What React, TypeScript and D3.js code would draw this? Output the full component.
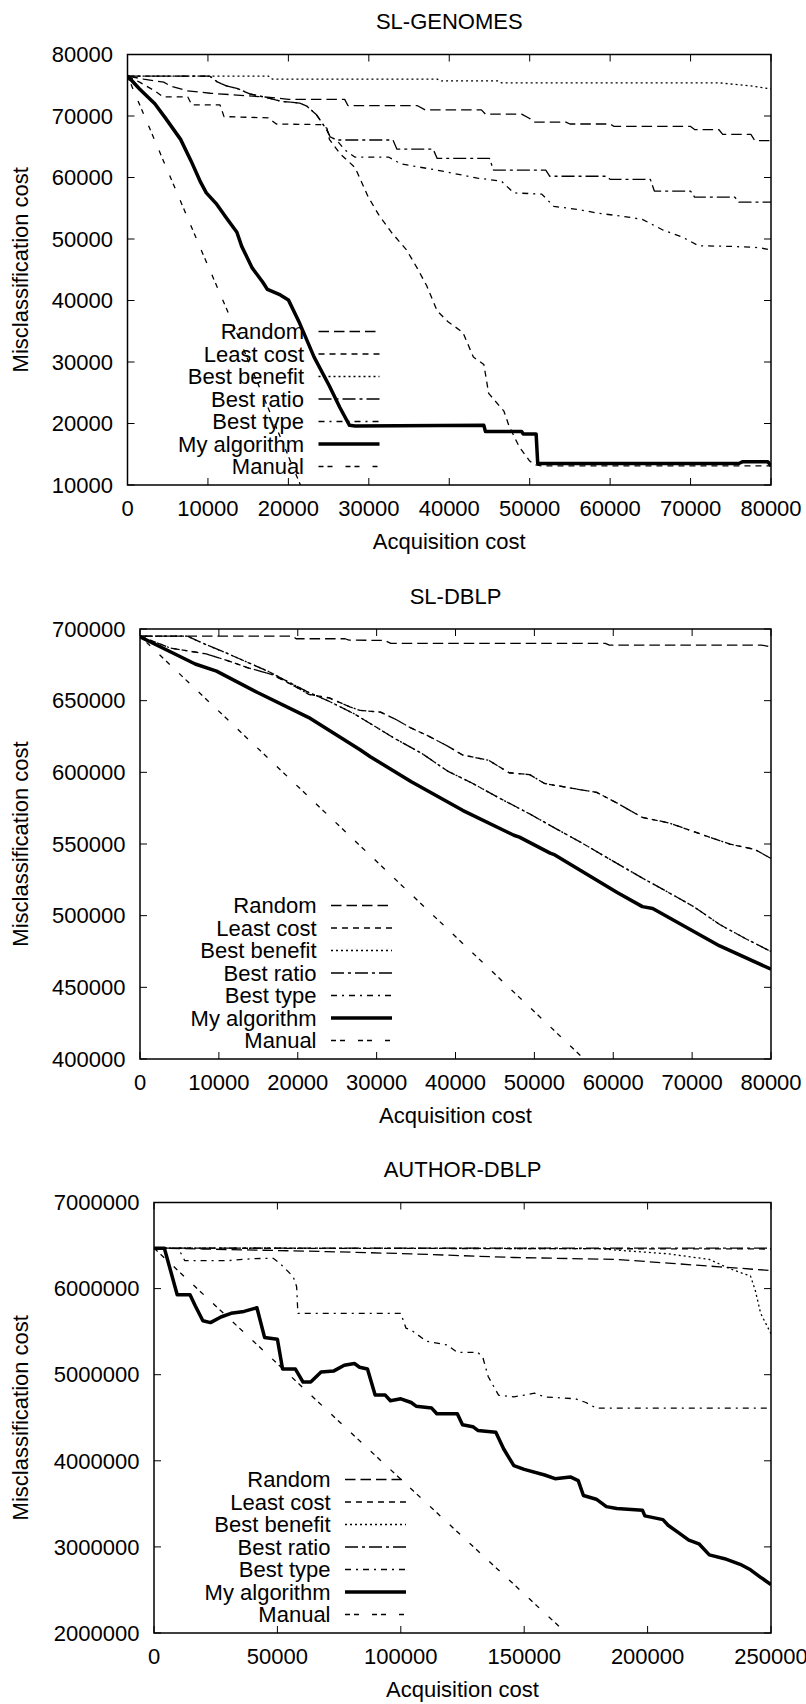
import React from 'react'
import * as d3 from 'd3'

type Pt = [number, number]

const seriesNames = ['Random', 'Least cost', 'Best benefit', 'Best ratio', 'Best type', 'My algorithm', 'Manual']
const seriesDash = ['10.5,5', '6,5', '2,3', '13,4,3,4', '6,5,2,5', 'none', '5,4,5,13']
const seriesWidth = [1.3, 1.3, 1.3, 1.3, 1.3, 3.5, 1.3]

// SL-GENOMES
const genomesXTicks = [0, 10000, 20000, 30000, 40000, 50000, 60000, 70000, 80000]
const genomesYTicks = [10000, 20000, 30000, 40000, 50000, 60000, 70000, 80000]
const genomesRandom: Pt[] = [[0, 76500], [2000, 76000], [4500, 75500], [5300, 74900], [7400, 74100], [10300, 73700], [18000, 73000], [20000, 72700], [27000, 72700], [27400, 71700], [36000, 71700], [37000, 71000], [44000, 71000], [44500, 70300], [49000, 70300], [50000, 69600], [50500, 69000], [54500, 69000], [55000, 68700], [60000, 68700], [60500, 68300], [70000, 68300], [70500, 67800], [73500, 67800], [74000, 67000], [77500, 67000], [78000, 66000], [80000, 66000]]
const genomesLeastCost: Pt[] = [[0, 76500], [1500, 75500], [3500, 74000], [4400, 73100], [7500, 73100], [8000, 71800], [11500, 71800], [12000, 69900], [17500, 69700], [18500, 68700], [24000, 68600], [24800, 68000], [25100, 66200], [26400, 63900], [28300, 61600], [29900, 56900], [31200, 54000], [32800, 51100], [34700, 48200], [36000, 45300], [37200, 42400], [38500, 38300], [39800, 36600], [41700, 34800], [43000, 30800], [44300, 29600], [44900, 24900], [46800, 22000], [47400, 19700], [48700, 16200], [50000, 13900], [50600, 13300], [51500, 13100], [80000, 13100]]
const genomesBestBenefit: Pt[] = [[0, 76500], [17500, 76500], [18000, 76000], [38500, 76000], [39000, 75700], [46000, 75700], [46500, 75400], [73500, 75400], [75000, 75200], [77500, 74900], [80000, 74400]]
const genomesBestRatio: Pt[] = [[0, 76500], [10200, 76500], [11100, 75600], [12300, 74900], [13600, 74500], [15200, 73600], [17300, 73000], [19000, 72400], [21400, 72100], [22300, 71600], [23500, 70200], [24800, 67700], [25200, 66600], [26000, 66100], [33000, 66100], [33500, 64600], [38000, 64600], [38500, 63100], [45000, 63100], [45500, 61200], [52000, 61200], [52500, 60200], [59500, 60200], [60000, 59700], [65000, 59700], [65500, 57800], [70000, 57800], [70500, 56800], [75500, 56800], [76000, 56000], [80000, 56000]]
const genomesBestType: Pt[] = [[0, 76500], [10200, 76500], [11100, 75600], [12300, 74900], [13600, 74500], [15200, 73600], [17300, 73000], [19000, 72400], [21400, 72100], [22300, 71600], [23500, 70200], [24800, 67700], [25200, 66600], [26000, 66100], [27000, 64500], [28300, 63300], [32500, 63300], [34000, 62200], [38500, 61200], [43500, 59900], [46500, 59400], [48000, 57500], [51500, 57300], [53000, 55300], [56000, 54800], [58500, 54200], [61500, 53700], [64000, 53200], [66500, 51500], [69000, 50300], [71000, 48900], [75000, 48800], [78500, 48600], [80000, 48200]]
const genomesMyAlgorithm: Pt[] = [[0, 76500], [1500, 74400], [3400, 72000], [4700, 69700], [6600, 66200], [7900, 62700], [9100, 59200], [9800, 57500], [11000, 55800], [12300, 53400], [13600, 51100], [14200, 48800], [15500, 45300], [16800, 43000], [17400, 41800], [19000, 40900], [20000, 40100], [21300, 36600], [23200, 30800], [25100, 26100], [26400, 22600], [27600, 19700], [28300, 19600], [44300, 19700], [44500, 18700], [49000, 18700], [49200, 18300], [50800, 18300], [51000, 13500], [76000, 13500], [76500, 13800], [79600, 13800], [80000, 13100]]
const genomesManual: Pt[] = [[0, 76500], [9200, 48100], [12300, 38700], [21500, 10000]]

// SL-DBLP
const dblpXTicks = [0, 10000, 20000, 30000, 40000, 50000, 60000, 70000, 80000]
const dblpYTicks = [400000, 450000, 500000, 550000, 600000, 650000, 700000]
const dblpRandom: Pt[] = [[0, 695000], [19400, 695000], [19800, 693200], [26000, 693200], [26500, 692300], [31000, 692000], [31800, 690000], [59000, 690000], [59500, 688800], [78800, 688800], [80000, 687500]]
const dblpLeastCost: Pt[] = [[0, 695000], [3800, 686800], [8400, 682600], [11000, 678100], [13600, 673100], [16800, 668100], [19400, 660700], [21400, 654400], [24000, 651900], [26600, 645700], [27900, 643200], [30500, 642000], [32400, 637000], [34400, 630800], [36400, 625800], [39000, 618300], [40900, 612100], [44200, 608400], [46800, 599700], [49400, 598400], [51300, 592200], [55300, 588400], [57900, 586000], [60500, 578500], [63700, 568500], [67000, 564800], [69600, 559800], [72200, 554800], [74800, 549900], [78000, 546100], [80000, 539900]]
const dblpBestBenefit: Pt[] = [[0, 695000], [6000, 695000], [8300, 689300], [11000, 683100], [13600, 676800], [16200, 670600], [18800, 663100], [21400, 655700], [24000, 649500], [27200, 640700], [29800, 632000], [32400, 623300], [35700, 613300], [39000, 600900], [42200, 592200], [45500, 582200], [49400, 571000], [52600, 561100], [55900, 551100], [59800, 538600], [63700, 526200], [67000, 516200], [70200, 506300], [73500, 493800], [76800, 483900], [80000, 475000]]
const dblpBestRatio: Pt[] = dblpBestBenefit
const dblpBestType: Pt[] = dblpLeastCost
const dblpMyAlgorithm: Pt[] = [[0, 694500], [7000, 675600], [9700, 670600], [14900, 655700], [21400, 638200], [27900, 615800], [29200, 610900], [34400, 593400], [40900, 573500], [47400, 556100], [48100, 554800], [52000, 543600], [52600, 542400], [60500, 516200], [63700, 506300], [65000, 505000], [73500, 478900], [80000, 462700]]
const dblpManual: Pt[] = [[0, 695000], [54300, 410500], [56300, 400000]]

// AUTHOR-DBLP
const authorXTicks = [0, 50000, 100000, 150000, 200000, 250000]
const authorYTicks = [2000000, 3000000, 4000000, 5000000, 6000000, 7000000]
const authorRandom: Pt[] = [[0, 6470000], [20000, 6460000], [41700, 6447000], [70000, 6430000], [104000, 6404000], [145800, 6361000], [187500, 6339000], [208300, 6296000], [229100, 6253000], [250000, 6210000]]
const authorLeastCost: Pt[] = [[0, 6470000], [120000, 6466000], [250000, 6460000]]
const authorBestBenefit: Pt[] = [[0, 6470000], [180000, 6465000], [187500, 6447000], [208300, 6404000], [225000, 6339000], [233300, 6231000], [241700, 6145000], [243700, 5972000], [245800, 5713000], [250000, 5476000]]
const authorBestRatio: Pt[] = [[0, 6470000], [250000, 6470000]]
const authorBestType: Pt[] = [[0, 6470000], [9800, 6468000], [12500, 6324000], [29500, 6324000], [40000, 6348000], [48300, 6352000], [51000, 6294000], [56400, 6138000], [57800, 6022000], [58300, 5713000], [100000, 5713000], [102100, 5540000], [104200, 5519000], [110400, 5389000], [118700, 5346000], [122900, 5260000], [131200, 5260000], [133300, 5195000], [135400, 4979000], [139600, 4763000], [145800, 4742000], [150000, 4763000], [154200, 4785000], [158300, 4742000], [170800, 4720000], [175000, 4677000], [179200, 4612000], [250000, 4612000]]
const authorMyAlgorithm: Pt[] = [[0, 6469000], [4200, 6469000], [9400, 5929000], [14600, 5929000], [16700, 5800000], [19800, 5627000], [22900, 5605000], [27100, 5670000], [31200, 5713000], [36500, 5735000], [41700, 5778000], [44800, 5433000], [50000, 5411000], [52100, 5066000], [57300, 5066000], [60400, 4914000], [63500, 4914000], [67700, 5031000], [72900, 5044000], [77100, 5109000], [81200, 5130000], [83300, 5087000], [86500, 5066000], [89600, 4763000], [93700, 4763000], [95800, 4698000], [100000, 4720000], [104200, 4677000], [106200, 4634000], [112500, 4612000], [114600, 4547000], [122900, 4547000], [125000, 4418000], [129200, 4396000], [131200, 4353000], [138500, 4331000], [141700, 4137000], [145800, 3943000], [150000, 3900000], [158300, 3835000], [162500, 3792000], [168700, 3813000], [171900, 3770000], [174000, 3597000], [179200, 3554000], [183300, 3468000], [187500, 3446000], [197900, 3425000], [198900, 3360000], [206200, 3317000], [208300, 3252000], [212500, 3166000], [216700, 3079000], [220800, 3036000], [225000, 2907000], [231200, 2863000], [237500, 2798000], [241700, 2734000], [245800, 2647000], [250000, 2561000]]
const authorManual: Pt[] = [[0, 6470000], [91600, 4010000], [167000, 2000000]]

const panels = [
  {
    title: 'SL-GENOMES', box: [127.5, 54.5, 771, 485], xMax: 80000, yDomain: [10000, 80000],
    xTicks: genomesXTicks, yTicks: genomesYTicks,
    series: [genomesRandom, genomesLeastCost, genomesBestBenefit, genomesBestRatio, genomesBestType, genomesMyAlgorithm, genomesManual],
  },
  {
    title: 'SL-DBLP', box: [140, 629, 771, 1059], xMax: 80000, yDomain: [400000, 700000],
    xTicks: dblpXTicks, yTicks: dblpYTicks,
    series: [dblpRandom, dblpLeastCost, dblpBestBenefit, dblpBestRatio, dblpBestType, dblpMyAlgorithm, dblpManual],
  },
  {
    title: 'AUTHOR-DBLP', box: [154, 1202.5, 771, 1633], xMax: 250000, yDomain: [2000000, 7000000],
    xTicks: authorXTicks, yTicks: authorYTicks,
    series: [authorRandom, authorLeastCost, authorBestBenefit, authorBestRatio, authorBestType, authorMyAlgorithm, authorManual],
  },
]

const font = '"Liberation Sans", Arial, Helvetica, sans-serif'

function Panel(props: any) {
  const p = props.panel
  const idx = props.idx
  const [left, top, right, bottom] = p.box
  const x = d3.scaleLinear().domain([0, p.xMax]).range([left, right])
  const y = d3.scaleLinear().domain(p.yDomain).range([bottom, top])
  const line = d3.line<Pt>().x(d => x(d[0])).y(d => y(d[1]))
  const tick = 7
  const midY = (top + bottom) / 2

  return (
    <g>
      <defs>
        <clipPath id={'clip' + idx}>
          <rect x={left} y={top} width={right - left} height={bottom - top} />
        </clipPath>
      </defs>
      <text x={(left + right) / 2} y={top - 33} dy="0.35em" textAnchor="middle">{p.title}</text>
      {p.xTicks.map((t: number) => (
        <g key={'x' + t}>
          <line x1={x(t)} x2={x(t)} y1={bottom} y2={bottom - tick} stroke="#000" />
          <line x1={x(t)} x2={x(t)} y1={top} y2={top + tick} stroke="#000" />
          <text x={x(t)} y={bottom + 23} dy="0.35em" textAnchor="middle">{t}</text>
        </g>
      ))}
      {p.yTicks.map((t: number) => (
        <g key={'y' + t}>
          <line x1={left} x2={left + tick} y1={y(t)} y2={y(t)} stroke="#000" />
          <line x1={right} x2={right - tick} y1={y(t)} y2={y(t)} stroke="#000" />
          <text x={left - 14.5} y={y(t)} dy="0.35em" textAnchor="end">{t}</text>
        </g>
      ))}
      <text x={(left + right) / 2} y={bottom + 56.5} dy="0.35em" textAnchor="middle">Acquisition cost</text>
      <text transform={`translate(20.7,${midY}) rotate(-90)`} dy="0.35em" textAnchor="middle">Misclassification cost</text>
      <g clipPath={`url(#clip${idx})`}>
        {p.series.map((s: Pt[], i: number) => (
          <path key={i} d={line(s) || ''} fill="none" stroke="#000"
            strokeWidth={seriesWidth[i]} strokeDasharray={seriesDash[i]} strokeLinejoin="round" />
        ))}
      </g>
      {seriesNames.map((name, i) => {
        const ry = bottom - 18.5 - (seriesNames.length - 1 - i) * 22.5
        return (
          <g key={name}>
            <text x={left + 176.5} y={ry} dy="0.35em" textAnchor="end">{name}</text>
            <line x1={left + 191} x2={left + 252} y1={ry} y2={ry} stroke="#000"
              strokeWidth={seriesWidth[i]} strokeDasharray={seriesDash[i]} />
          </g>
        )
      })}
      <rect x={left} y={top} width={right - left} height={bottom - top} fill="none" stroke="#000" strokeWidth={1.5} />
    </g>
  )
}

export default function App() {
  return (
    <svg width={806} height={1704} style={{ position: 'absolute', left: 0, top: 0 }}
      fontFamily={font} fontSize={22} fill="#000">
      <rect width={806} height={1704} fill="#fff" />
      {panels.map((p, i) => <Panel key={p.title} panel={p} idx={i} />)}
    </svg>
  )
}
